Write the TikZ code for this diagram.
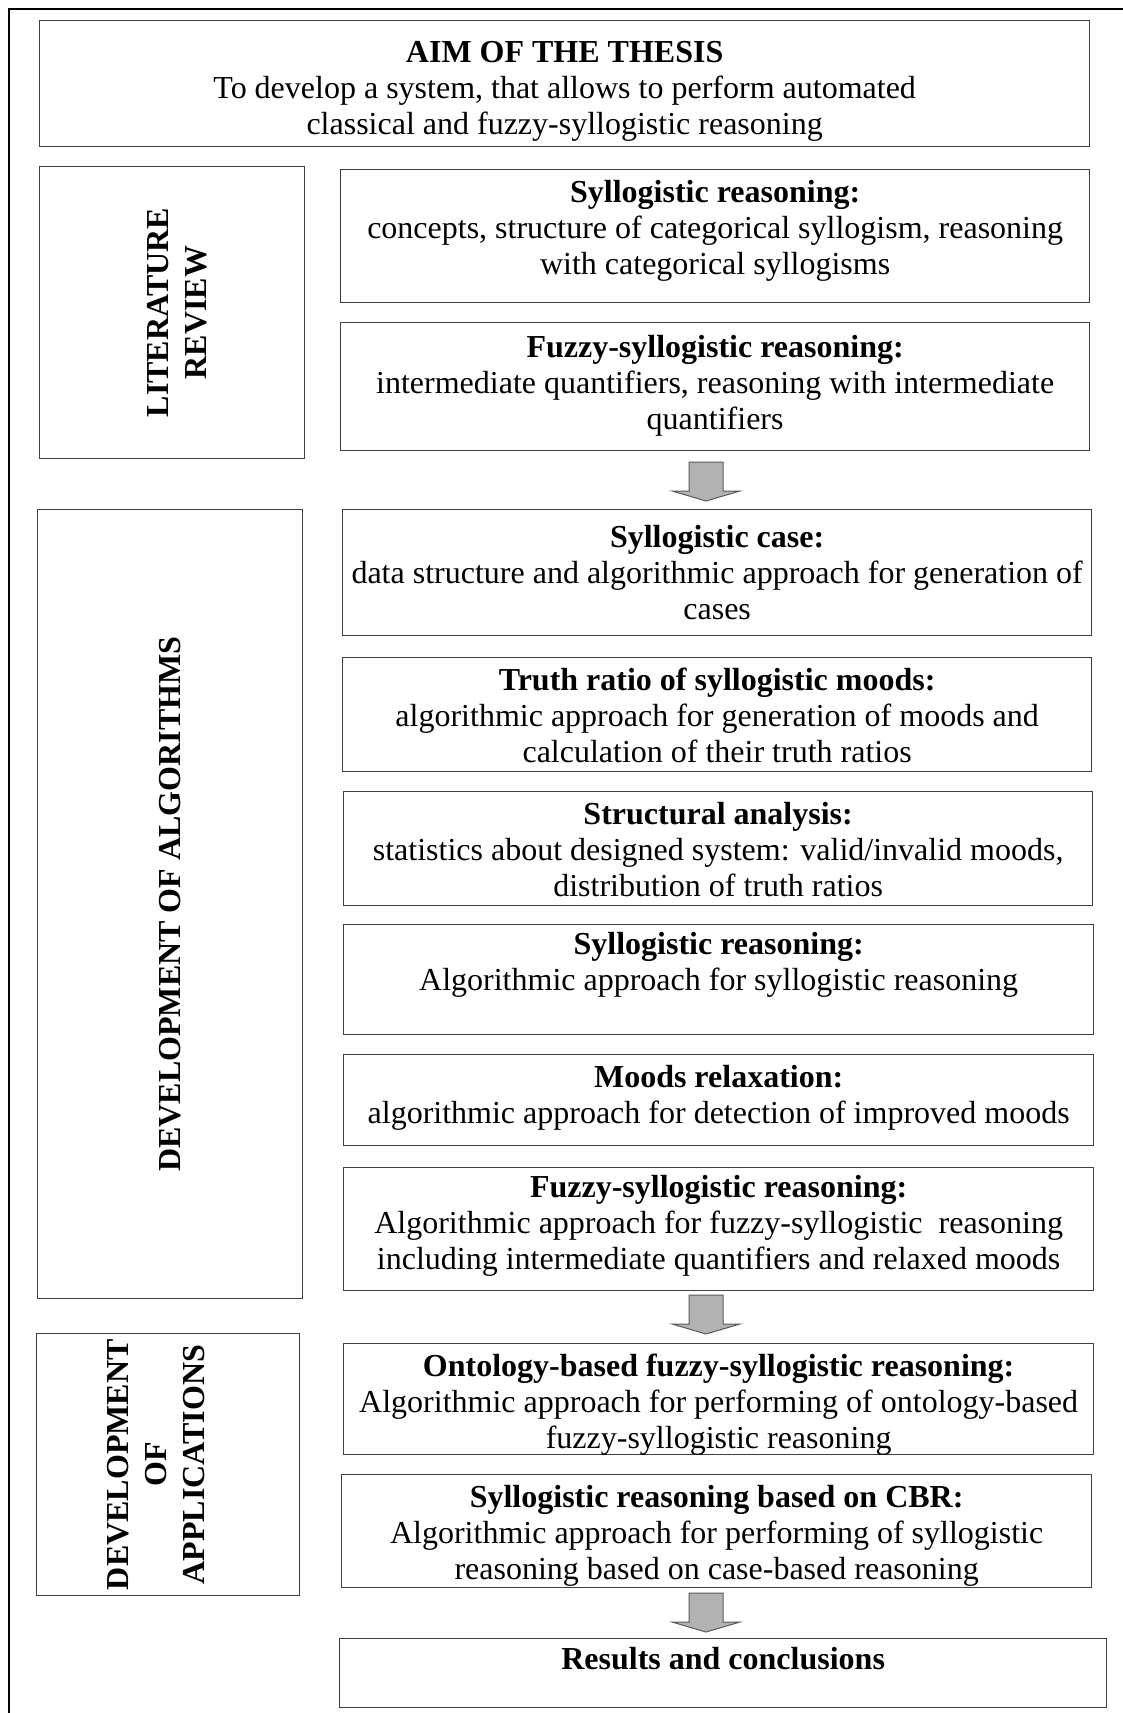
\documentclass[tikz,border=0pt]{standalone}
\usepackage{fontspec}
\setmainfont{Liberation Serif}
\begin{document}
\begin{tikzpicture}[x=1pt,y=-1pt,
  panel/.style={draw=black!75, line width=1.3pt, inner sep=0pt, fill=white},
  caption/.style={inner sep=0pt, align=center,
    font=\fontsize{32}{36}\selectfont},
  sidelabel/.style={inner sep=0pt, align=center, rotate=90,
    font=\fontsize{32}{38}\selectfont\bfseries},
  frameline/.style={draw=black, line width=2pt},
  blockarrow/.style={fill=black!30, draw=black!65, line width=1pt, line join=miter},
  downarrow/.pic={\path[blockarrow] (-17,0) -- (17,0) -- (17,29) -- (34,29)
      -- (0,39) -- (-34,29) -- (-17,29) -- cycle;}]
\useasboundingbox (0,0) rectangle (1123,1713);
\newcommand\mkpanel[5]{\node[panel, anchor=north west,
  minimum width={#4-#2}, minimum height={#5-#3}] (#1) at (#2,#3) {};}

% outer frame (top and left edges)
\draw[frameline] (9,1713) -- (9,9) -- (1123,9);

% aim of the thesis
\mkpanel{aim}{39}{20}{1089}{146}
\node[caption, anchor=north] (aim-t) at ([yshift=-21pt]aim.north)
  {\textbf{AIM OF THE THESIS}\\To develop a system, that allows to perform automated\\classical and fuzzy-syllogistic reasoning};

% literature review
\mkpanel{lit}{39}{166}{304}{458}
\node[sidelabel] (lit-t) at ([xshift=5pt]lit.center) {LITERATURE\\REVIEW};
\mkpanel{syl}{340}{169}{1089}{302}
\node[caption, anchor=north] (syl-t) at ([yshift=-11pt]syl.north)
  {\textbf{Syllogistic reasoning:}\\concepts, structure of categorical syllogism, reasoning\\with categorical syllogisms};
\mkpanel{fuz}{340}{322}{1089}{450}
\node[caption, anchor=north] (fuz-t) at ([yshift=-13pt]fuz.north)
  {\textbf{Fuzzy-syllogistic reasoning:}\\intermediate quantifiers, reasoning with intermediate\\quantifiers};

\pic (arr1) at (706,462) {downarrow};

% development of algorithms
\mkpanel{alg}{37}{509}{302}{1298}
\node[sidelabel] (alg-t) at (alg.center) {DEVELOPMENT OF ALGORITHMS};
\mkpanel{case}{342}{509}{1091}{635}
\node[caption, anchor=north] (case-t) at ([yshift=-16pt]case.north)
  {\textbf{Syllogistic case:}\\data structure and algorithmic approach for generation of\\cases};
\mkpanel{truth}{342}{657}{1091}{771}
\node[caption, anchor=north] (truth-t) at ([yshift=-11pt]truth.north)
  {\textbf{Truth ratio of syllogistic moods:}\\algorithmic approach for generation of moods and\\calculation of their truth ratios};
\mkpanel{struct}{343}{791}{1092}{905}
\node[caption, anchor=north] (struct-t) at ([yshift=-11pt]struct.north)
  {\textbf{Structural analysis:}\\statistics about designed system: valid/invalid moods,\\distribution of truth ratios};
\mkpanel{syltwo}{343}{924}{1093}{1034}
\node[caption, anchor=north] (syltwo-t) at ([yshift=-8pt]syltwo.north)
  {\textbf{Syllogistic reasoning:}\\Algorithmic approach for syllogistic reasoning};
\mkpanel{moods}{343}{1054}{1093}{1145}
\node[caption, anchor=north] (moods-t) at ([yshift=-11pt]moods.north)
  {\textbf{Moods relaxation:}\\algorithmic approach for detection of improved moods};
\mkpanel{fuztwo}{343}{1167}{1093}{1290}
\node[caption, anchor=north] (fuztwo-t) at ([yshift=-8pt]fuztwo.north)
  {\textbf{Fuzzy-syllogistic reasoning:}\\Algorithmic approach for fuzzy-syllogistic\ \ reasoning\\including intermediate quantifiers and relaxed moods};

\pic (arr2) at (706,1295) {downarrow};

% development of applications
\mkpanel{app}{36}{1333}{299}{1595}
\node[sidelabel] (app-t) at ([xshift=-12pt]app.center) {DEVELOPMENT\\OF\\APPLICATIONS};
\mkpanel{onto}{343}{1343}{1093}{1454}
\node[caption, anchor=north] (onto-t) at ([yshift=-11pt]onto.north)
  {\textbf{Ontology-based fuzzy-syllogistic reasoning:}\\Algorithmic approach for performing of ontology-based\\fuzzy-syllogistic reasoning};
\mkpanel{cbr}{341}{1474}{1091}{1587}
\node[caption, anchor=north] (cbr-t) at ([yshift=-11pt]cbr.north)
  {\textbf{Syllogistic reasoning based on CBR:}\\Algorithmic approach for performing of syllogistic\\reasoning based on case-based reasoning};

\pic (arr3) at (706,1593) {downarrow};

% results
\mkpanel{res}{339}{1638}{1106}{1707}
\node[caption, anchor=north] (res-t) at ([yshift=-9pt]res.north)
  {\textbf{Results and conclusions}};
\end{tikzpicture}
\end{document}
